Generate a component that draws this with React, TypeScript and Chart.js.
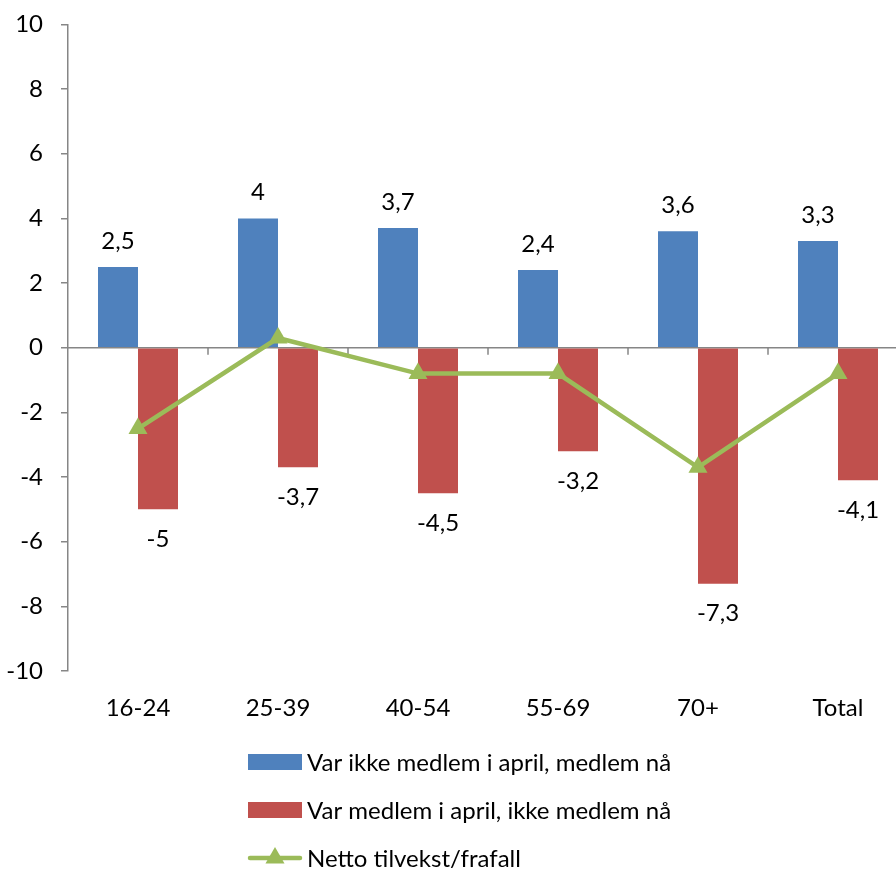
import React, { useEffect, useRef } from "react";
import { Chart, registerables } from "chart.js";

Chart.register(...registerables);

const categories = ["16-24", "25-39", "40-54", "55-69", "70+", "Total"];
const joinedValues = [2.5, 4, 3.7, 2.4, 3.6, 3.3];
const leftValues = [-5, -3.7, -4.5, -3.2, -7.3, -4.1];
const netValues = [-2.5, 0.3, -0.8, -0.8, -3.7, -0.8];
const seriesNames = [
  "Var ikke medlem i april, medlem nå",
  "Var medlem i april, ikke medlem nå",
  "Netto tilvekst/frafall",
];
const yMin = -10;
const yMax = 10;
const yStep = 2;

const BLUE = "#4F81BD";
const RED = "#C0504D";
const GREEN = "#9BBB59";
const AXIS = "#868686";
const FONT = "Lato, 'Open Sans', sans-serif";
const FS = 24;
const SHIFT = 8;

const fmt = (v: number) => String(v).replace(".", ",");

export default function App() {
  const ref = useRef<HTMLCanvasElement | null>(null);

  useEffect(() => {
    document.body.style.margin = "0";
    const canvas = ref.current;
    if (!canvas) return;

    const extras = {
      id: "extras",
      beforeDatasetsDraw(chart: any) {
        const { ctx, chartArea, scales } = chart;
        const y0 = scales.y.getPixelForValue(0);
        ctx.save();
        ctx.strokeStyle = AXIS;
        ctx.lineWidth = 1.5;
        ctx.beginPath();
        ctx.moveTo(chartArea.left, y0);
        ctx.lineTo(chartArea.right, y0);
        const n = categories.length;
        const w = (chartArea.right - chartArea.left) / n;
        for (let i = 1; i < n; i++) {
          const bx = chartArea.left + i * w;
          ctx.moveTo(bx, y0);
          ctx.lineTo(bx, y0 + 7);
        }
        ctx.stroke();
        ctx.restore();
      },
      afterDatasetsDraw(chart: any) {
        const { ctx } = chart;
        ctx.save();
        ctx.font = `${FS}px ${FONT}`;
        ctx.fillStyle = "#000";
        ctx.textAlign = "center";
        ctx.textBaseline = "middle";
        const m0 = chart.getDatasetMeta(0);
        m0.data.forEach((el: any, i: number) => {
          ctx.fillText(fmt(joinedValues[i]), el.x, el.y - 26);
        });
        const m1 = chart.getDatasetMeta(1);
        m1.data.forEach((el: any, i: number) => {
          ctx.fillText(fmt(leftValues[i]), el.x, el.y + 30);
        });
        ctx.restore();
      },
      afterDraw(chart: any) {
        const { ctx } = chart;
        const x0 = 248;
        const x1 = 302;
        const rows = [762 + SHIFT, 810 + SHIFT, 858 + SHIFT];
        ctx.save();
        ctx.font = `${FS}px ${FONT}`;
        ctx.textBaseline = "middle";
        ctx.textAlign = "left";
        ctx.fillStyle = BLUE;
        ctx.fillRect(x0, rows[0] - 8, x1 - x0, 16);
        ctx.fillStyle = RED;
        ctx.fillRect(x0, rows[1] - 8, x1 - x0, 16);
        ctx.strokeStyle = GREEN;
        ctx.lineWidth = 4.5;
        ctx.lineCap = "round";
        ctx.beginPath();
        ctx.moveTo(x0 + 2, rows[2]);
        ctx.lineTo(x1 - 2, rows[2]);
        ctx.stroke();
        const cx = (x0 + x1) / 2;
        const r = 11;
        ctx.fillStyle = GREEN;
        ctx.beginPath();
        ctx.moveTo(cx, rows[2] - r);
        ctx.lineTo(cx + r * 0.866, rows[2] + r / 2);
        ctx.lineTo(cx - r * 0.866, rows[2] + r / 2);
        ctx.closePath();
        ctx.fill();
        ctx.fillStyle = "#000";
        seriesNames.forEach((s, i) => ctx.fillText(s, x1 + 5, rows[i] + 1));
        ctx.restore();
      },
    };

    const chart = new Chart(canvas, {
      type: "bar",
      data: {
        labels: categories,
        datasets: [
          {
            type: "bar",
            label: seriesNames[0],
            data: joinedValues,
            backgroundColor: BLUE,
            categoryPercentage: 80 / 140,
            barPercentage: 1,
            order: 1,
          },
          {
            type: "bar",
            label: seriesNames[1],
            data: leftValues,
            backgroundColor: RED,
            categoryPercentage: 80 / 140,
            barPercentage: 1,
            order: 1,
          },
          {
            type: "line",
            label: seriesNames[2],
            data: netValues,
            borderColor: GREEN,
            backgroundColor: GREEN,
            borderWidth: 4.5,
            pointStyle: "triangle",
            pointRadius: 11,
            pointBorderWidth: 0,
            pointBackgroundColor: GREEN,
            tension: 0,
            order: 0,
          } as any,
        ],
      },
      options: {
        responsive: false,
        animation: false,
        layout: { padding: { top: 16, right: 12, left: 0, bottom: 150 } },
        plugins: {
          legend: { display: false },
          tooltip: { enabled: false },
        },
        scales: {
          x: {
            offset: true,
            grid: { display: false },
            border: { display: false },
            ticks: { color: "#000", font: { family: FONT, size: FS }, padding: 15 },
            afterFit: (s: any) => {
              s.height = 48;
            },
          },
          y: {
            min: yMin,
            max: yMax,
            ticks: {
              stepSize: yStep,
              color: "#000",
              font: { family: FONT, size: FS },
              padding: 18,
            },
            grid: {
              drawOnChartArea: false,
              drawTicks: true,
              tickLength: 7,
              color: AXIS,
              lineWidth: 1.5,
            },
            border: { display: true, color: AXIS, width: 1.5 },
            afterFit: (s: any) => {
              s.width = 68;
            },
          },
        },
      },
      plugins: [extras],
    });
    return () => chart.destroy();
  }, []);

  return (
    <div style={{ width: 896, height: 869, overflow: "hidden", position: "relative", background: "#fff" }}>
      <canvas
        ref={ref}
        width={920}
        height={869 + SHIFT}
        style={{ width: 920, height: 869 + SHIFT, display: "block", marginTop: -SHIFT }}
      />
    </div>
  );
}
